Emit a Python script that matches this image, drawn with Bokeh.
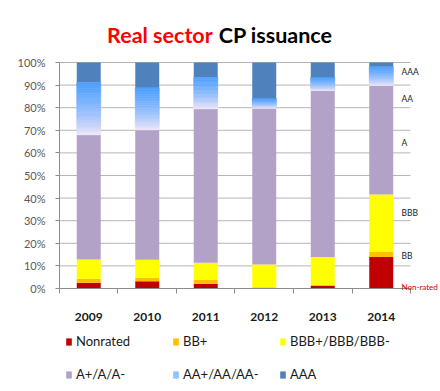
import numpy as np
from bokeh.plotting import figure
from bokeh.models import Range1d, FixedTicker, PrintfTickFormatter, Label, Legend, LegendItem
from bokeh.embed import file_html
from bokeh.resources import INLINE

# ---- data (percent of CP issuance) ----
years = ["2009", "2010", "2011", "2012", "2013", "2014"]
nonrated = [2.5, 3.2, 2.1, 0.0, 1.3, 13.9]
bb_plus = [1.8, 1.4, 1.7, 0.5, 0.0, 2.5]
bbb_grade = [8.5, 8.1, 7.6, 10.1, 12.6, 25.2]
a_grade = [55.2, 57.5, 68.1, 69.2, 73.7, 48.2]
aa_grade = [23.3, 18.6, 14.0, 4.4, 5.9, 8.4]
aaa_grade = [8.7, 11.2, 6.5, 15.8, 6.5, 1.8]
series_names = ["Nonrated", "BB+", "BBB+/BBB/BBB-", "A+/A/A-", "AA+/AA/AA-", "AAA"]
y_ticks = [0, 10, 20, 30, 40, 50, 60, 70, 80, 90, 100]
side_labels = ["AAA", "AA", "A", "BBB", "BB", "Non-rated"]
side_label_y = [95.6, 83.8, 64.3, 33.2, 14.6, 0.6]

# ---- styles ----
colors = {"Nonrated": "#c00000", "BB+": "#ffc000", "BBB+/BBB/BBB-": "#ffff00",
          "A+/A/A-": "#b3a2c7", "AA+/AA/AA-": "#8cc2ff", "AAA": "#4f81bd"}
FONT = "Lato"

n = len(years)
xs = np.arange(n) + 0.5
bar_w = 0.41

# the frame fills the whole canvas; axes sit at fixed data locations
p = figure(width=438, height=389, x_range=Range1d(-1.0085, 6.4786), y_range=Range1d(-44.69, 127.43),
           output_backend="svg", toolbar_location=None, min_border=0)
p.title.visible = False
p.outline_line_color = None
p.xgrid.visible = False
p.ygrid.visible = False

# horizontal gridlines limited to the plot area
p.segment(x0=[0] * len(y_ticks), x1=[n] * len(y_ticks), y0=y_ticks, y1=y_ticks,
          line_color="#b5b5b5", line_width=1)

# stacked segments
stack = [nonrated, bb_plus, bbb_grade, a_grade, aa_grade, aaa_grade]
bottoms = np.zeros(n)
legend_items = []
for name, vals in zip(series_names, stack):
    vals = np.array(vals, dtype=float)
    tops = bottoms + vals
    if name == "AA+/AA/AA-":
        # vertical gradient: pale pink-white at bottom to bright blue at top
        c0 = np.array([252, 236, 248])
        c1 = np.array([74, 158, 255])
        nb = 24
        for k in range(nb):
            t = ((k + 0.5) / nb) ** 0.7
            c = tuple(int(round(v)) for v in (c0 + (c1 - c0) * t))
            col = "#%02x%02x%02x" % c
            b_k = bottoms + vals * k / nb
            t_k = bottoms + vals * (k + 1) / nb
            p.vbar(x=xs, bottom=b_k, top=t_k, width=bar_w, fill_color=col,
                   line_color=col, line_width=0.6)
        # zero-height proxy used only for the legend swatch
        r = p.vbar(x=xs[:1], bottom=[0], top=[0], width=bar_w,
                   fill_color=colors[name], line_color=None)
    else:
        r = p.vbar(x=xs, bottom=bottoms, top=tops, width=bar_w,
                   fill_color=colors[name], line_color=None)
    legend_items.append(LegendItem(label=name, renderers=[r]))
    bottoms = tops

# axes
xa = p.xaxis[0]
xa.fixed_location = 0
xa.bounds = (0, n)
xa.ticker = FixedTicker(ticks=list(xs), minor_ticks=list(range(n + 1)))
xa.major_label_overrides = {float(x): y for x, y in zip(xs, years)}
xa.major_tick_line_color = None
xa.major_tick_out = 0
xa.minor_tick_in = 0
xa.minor_tick_out = 5
xa.minor_tick_line_color = "#8c8c8c"
xa.axis_line_color = "#8c8c8c"
xa.major_label_standoff = 20
xa.major_label_text_font = FONT
xa.major_label_text_font_style = "bold"
xa.major_label_text_font_size = "12px"
xa.major_label_text_color = "#1a1a1a"

ya = p.yaxis[0]
ya.fixed_location = 0
ya.bounds = (0, 100)
ya.ticker = FixedTicker(ticks=y_ticks)
ya.formatter = PrintfTickFormatter(format="%d%%")
ya.major_tick_in = 0
ya.major_tick_out = 4
ya.major_tick_line_color = "#8c8c8c"
ya.minor_tick_line_color = None
ya.axis_line_color = "#8c8c8c"
ya.major_label_standoff = 10
ya.major_label_text_font = FONT
ya.major_label_text_font_size = "11px"
ya.major_label_text_color = "#595959"

# title (two colours)
p.add_layout(Label(x=2.67, y=100, x_offset=-3, y_offset=27, text="Real sector",
                   text_align="right", text_baseline="alphabetic", text_font=FONT,
                   text_font_style="bold", text_font_size="21.5px", text_color="#ff0000"))
p.add_layout(Label(x=2.67, y=100, x_offset=3, y_offset=27, text="CP issuance",
                   text_align="left", text_baseline="alphabetic", text_font=FONT,
                   text_font_style="bold", text_font_size="21.5px", text_color="#000000"))

# right-hand rating labels
for lab, yy in zip(side_labels, side_label_y):
    red = lab == "Non-rated"
    p.add_layout(Label(x=n, y=yy, x_offset=-9, text=lab, text_align="left",
                       text_baseline="middle", text_font=FONT,
                       text_font_size="8px" if red else "8.5px",
                       text_color="#cc0000" if red else "#1a1a1a"))

legend = Legend(items=legend_items, location=(65, 7), orientation="horizontal", ncols=3,
                glyph_width=7, glyph_height=9, label_standoff=4, label_width=79,
                label_height=12, spacing=17, padding=0, margin=0,
                border_line_color=None, background_fill_alpha=0,
                label_text_font=FONT, label_text_font_size="13px",
                label_text_color="#1a1a1a")
p.add_layout(legend)

open("out.html", "w").write(file_html(p, INLINE))
